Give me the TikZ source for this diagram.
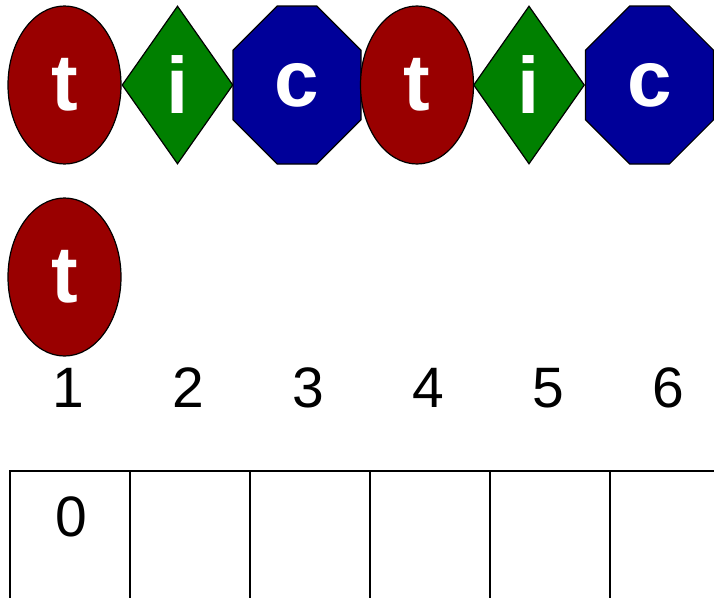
\documentclass[tikz,border=0pt]{standalone}
\usepackage{fontspec}
\setmainfont{Liberation Sans}
\usetikzlibrary{shapes.geometric, shapes.misc}
\definecolor{tred}{HTML}{990000}
\definecolor{igreen}{HTML}{008000}
\definecolor{cblue}{HTML}{000099}
\begin{document}
\begin{tikzpicture}[x=1pt, y=-1pt, line width=1.2pt,
  letter/.style={draw=black, text=white, inner sep=0pt, font=\bfseries\fontsize{80}{80}\selectfont},
  tnode/.style={letter, ellipse, fill=tred, minimum width=113pt, minimum height=158pt},
  inode/.style={letter, diamond, fill=igreen, minimum width=111pt, minimum height=158pt},
  cnode/.style={letter, chamfered rectangle, chamfered rectangle xsep=37pt,
    chamfered rectangle ysep=37pt, fill=cblue, minimum width=128pt, minimum height=158pt},
  num/.style={font=\fontsize{57}{57}\selectfont, inner sep=0pt},
  cell/.style={draw=black, line width=1.5pt, anchor=north west, inner sep=0pt,
    minimum width=120pt, minimum height=170pt}]
  \clip (0,0) rectangle (714,597);
  % top row of shapes
  \foreach \l/\s/\x/\n in {t/tnode/64.5/t1, i/inode/177.5/i1, c/cnode/297/c1,
                           t/tnode/417/t2, i/inode/529/i2, c/cnode/649.5/c2}
    \node[\s] (\n) at (\x,85) {\l};
  % second row
  \node[tnode] (t3) at (64.5,277) {t};
  % indices and cells
  \foreach \i in {1,...,6}
    { \node[num] (n\i) at ({68+120*(\i-1)},388) {\i};
      \node[cell] (cell\i) at ({9+120*(\i-1)},470) {}; }
  \node[num] (v1) at (71,516.5) {0};
\end{tikzpicture}
\end{document}
